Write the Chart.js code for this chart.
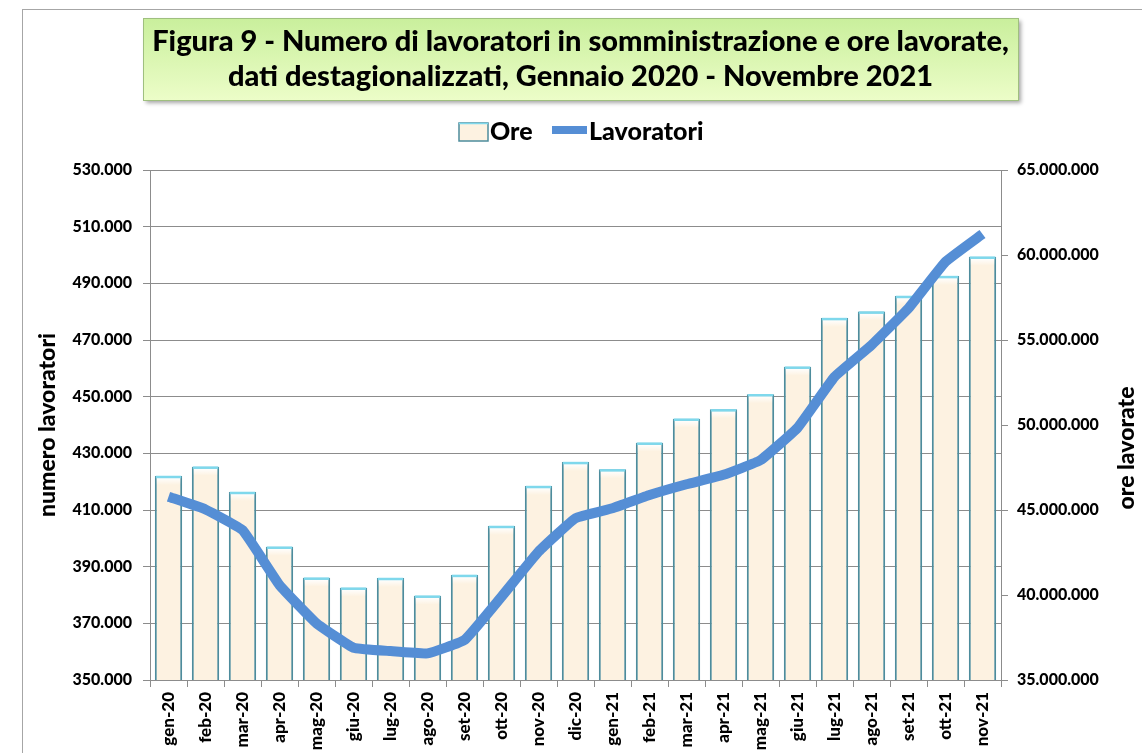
<!DOCTYPE html>
<html lang="it">
<head>
<meta charset="utf-8">
<title>Figura 9 - Lavoratori in somministrazione e ore lavorate</title>
<script src="https://cdn.jsdelivr.net/npm/chart.js@4.4.1/dist/chart.umd.min.js"></script>
<style>
  html, body { margin: 0; padding: 0; background: #fff; }
  #wrap { width: 1142px; height: 753px; }
</style>
</head>
<body>
<div id="wrap"><canvas id="chart" width="1142" height="753"></canvas></div>
<script>
// months Jan 2020 - Nov 2021
const months = ['gen-20', 'feb-20', 'mar-20', 'apr-20', 'mag-20', 'giu-20', 'lug-20', 'ago-20',
  'set-20', 'ott-20', 'nov-20', 'dic-20', 'gen-21', 'feb-21', 'mar-21', 'apr-21', 'mag-21',
  'giu-21', 'lug-21', 'ago-21', 'set-21', 'ott-21', 'nov-21'];

// ore lavorate (right axis)
const oreLavorate = [47000000, 47550000, 46060000, 42840000, 41020000, 40430000, 41000000, 39960000,
  41180000, 44060000, 46410000, 47820000, 47390000, 48960000, 50370000, 50920000, 51810000,
  53430000, 56290000, 56670000, 57590000, 58760000, 59900000];

// numero lavoratori (left axis)
const lavoratori = [414700, 410200, 402900, 383500, 370000, 361400, 360200, 359400,
  364100, 379400, 395300, 407100, 410600, 415300, 419100, 422400, 427600,
  439000, 457000, 468200, 481200, 497600, 507400];

const titleLines = [
  'Figura 9 - Numero di lavoratori in somministrazione e ore lavorate,',
  'dati destagionalizzati, Gennaio 2020 - Novembre 2021'
];

const FONT = 'Lato, "Open Sans", sans-serif';
const GRID = '#8c8c8c';
const BLUE = '#558ed5';

function formatIt(v) {
  return String(Math.round(v)).replace(/\B(?=(\d{3})+(?!\d))/g, '.');
}

// title box, legend, axis titles and bar highlights
const decor = {
  id: 'decor',
  beforeDraw(chart) {
    const ctx = chart.ctx;
    ctx.save();
    ctx.fillStyle = '#fff';
    ctx.fillRect(0, 0, chart.width, chart.height);
    ctx.strokeStyle = '#a6a6a6';
    ctx.lineWidth = 1;
    ctx.strokeRect(22.5, 9.5, chart.width + 20, chart.height + 20);

    // title box
    const bx = 143, by = 18, bw = 875, bh = 82;
    ctx.shadowColor = 'rgba(0,0,0,0.35)';
    ctx.shadowOffsetX = 3;
    ctx.shadowOffsetY = 3;
    ctx.shadowBlur = 4;
    const g = ctx.createLinearGradient(0, by, 0, by + bh);
    g.addColorStop(0, '#c9ef9c');
    g.addColorStop(1, '#ecfdc8');
    ctx.fillStyle = g;
    ctx.fillRect(bx, by, bw, bh);
    ctx.shadowColor = 'transparent';
    ctx.strokeStyle = '#9fbf7f';
    ctx.strokeRect(bx + 0.5, by + 0.5, bw, bh);

    ctx.fillStyle = '#000';
    ctx.textAlign = 'center';
    ctx.textBaseline = 'alphabetic';
    ctx.font = '900 25px ' + FONT;
    const size = 25 * 858 / ctx.measureText(titleLines[0]).width;
    ctx.font = '900 ' + size.toFixed(1) + 'px ' + FONT;
    ctx.fillText(titleLines[0], bx + bw / 2, 51);
    ctx.fillText(titleLines[1], bx + bw / 2, 86);
    ctx.restore();
  },
  afterDatasetDraw(chart, args) {
    if (args.index !== 0) return;
    const ctx = chart.ctx;
    ctx.save();
    chart.getDatasetMeta(0).data.forEach(bar => {
      const p = bar.getProps(['x', 'y', 'width'], true);
      const l = p.x - p.width / 2, r = p.x + p.width / 2;
      const hl = ctx.createLinearGradient(0, p.y + 2, 0, p.y + 9);
      hl.addColorStop(0, 'rgba(255,255,255,0.95)');
      hl.addColorStop(1, 'rgba(255,255,255,0)');
      ctx.fillStyle = hl;
      ctx.fillRect(l + 2, p.y + 2, p.width - 4, 7);
      ctx.strokeStyle = '#7fd8ec';
      ctx.lineWidth = 2.5;
      ctx.beginPath();
      ctx.moveTo(l + 1, p.y + 1);
      ctx.lineTo(r - 1, p.y + 1);
      ctx.stroke();
    });
    ctx.restore();
  },
  afterDraw(chart) {
    const ctx = chart.ctx;
    ctx.save();
    ctx.fillStyle = '#000';
    ctx.textAlign = 'center';
    ctx.textBaseline = 'middle';
    ctx.font = '900 23px ' + FONT;
    ctx.translate(48, 425);
    ctx.rotate(-Math.PI / 2);
    ctx.fillText('numero lavoratori', 0, 0);
    ctx.restore();

    ctx.save();
    ctx.fillStyle = '#000';
    ctx.textAlign = 'center';
    ctx.textBaseline = 'middle';
    ctx.font = '900 23px ' + FONT;
    ctx.translate(1127, 448);
    ctx.rotate(-Math.PI / 2);
    ctx.fillText('ore lavorate', 0, 0);
    ctx.restore();

    // legend
    ctx.save();
    ctx.fillStyle = '#fdf2e1';
    ctx.fillRect(459, 123, 29, 18);
    ctx.strokeStyle = '#4d8c9c';
    ctx.lineWidth = 1.5;
    ctx.strokeRect(459, 123, 29, 18);
    ctx.strokeStyle = '#7fd8ec';
    ctx.beginPath();
    ctx.moveTo(459, 123.5);
    ctx.lineTo(488, 123.5);
    ctx.stroke();
    ctx.fillStyle = BLUE;
    ctx.fillRect(552, 126, 35, 8);
    ctx.fillStyle = '#000';
    ctx.font = '900 25px ' + FONT;
    ctx.textAlign = 'left';
    ctx.textBaseline = 'alphabetic';
    ctx.fillText('Ore', 490, 140);
    ctx.fillText('Lavoratori', 589, 140);
    ctx.restore();
  }
};

new Chart(document.getElementById('chart'), {
  data: {
    labels: months,
    datasets: [
      {
        type: 'bar',
        label: 'Ore',
        data: oreLavorate,
        yAxisID: 'y1',
        order: 2,
        backgroundColor: '#fdf2e1',
        borderColor: '#4d8c9c',
        borderWidth: 2,
        borderSkipped: false,
        barPercentage: 0.74,
        categoryPercentage: 1
      },
      {
        type: 'line',
        label: 'Lavoratori',
        data: lavoratori,
        yAxisID: 'y',
        order: 1,
        borderColor: BLUE,
        borderWidth: 10,
        pointRadius: 0,
        pointHoverRadius: 0,
        tension: 0.1,
        borderJoinStyle: 'round',
        fill: false
      }
    ]
  },
  options: {
    responsive: false,
    animation: false,
    layout: { padding: { top: 170, left: 0, right: 0, bottom: 0 } },
    plugins: {
      legend: { display: false },
      title: { display: false },
      tooltip: { enabled: false }
    },
    scales: {
      x: {
        afterFit(scale) { scale.height = 73; },
        grid: {
          offset: true,
          drawOnChartArea: false,
          drawTicks: true,
          tickLength: 7,
          color: GRID
        },
        border: { color: GRID, width: 1 },
        ticks: {
          autoSkip: false,
          minRotation: 90,
          maxRotation: 90,
          padding: 5,
          color: '#000',
          font: { family: FONT, size: 17, weight: 900 }
        }
      },
      y: {
        position: 'left',
        min: 350000,
        max: 530000,
        afterFit(scale) { scale.width = 150; },
        grid: { color: GRID, lineWidth: 1, tickLength: 7, tickColor: GRID },
        border: { color: GRID, width: 1 },
        ticks: {
          stepSize: 20000,
          padding: 11,
          color: '#000',
          font: { family: FONT, size: 16, weight: 900 },
          callback: v => formatIt(v)
        }
      },
      y1: {
        position: 'right',
        min: 35000000,
        max: 65000000,
        afterFit(scale) { scale.width = 141; },
        grid: { drawOnChartArea: false, tickLength: 7, color: GRID },
        border: { color: GRID, width: 1 },
        ticks: {
          stepSize: 5000000,
          padding: 9,
          color: '#000',
          font: { family: FONT, size: 16, weight: 900 },
          callback: v => formatIt(v)
        }
      }
    }
  },
  plugins: [decor]
});
</script>
</body>
</html>
